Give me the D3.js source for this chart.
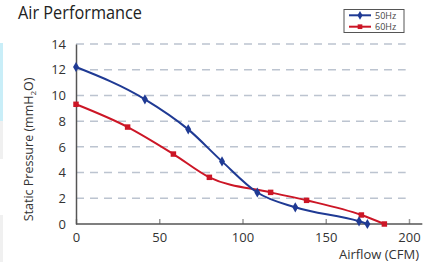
<!DOCTYPE html>
<html>
<head>
<meta charset="utf-8">
<script src="https://cdn.jsdelivr.net/npm/d3@7"></script>
<style>
  body { margin: 0; background: #fff; }
  svg { display: block; font-family: "Open Sans", "Noto Sans", sans-serif; }
</style>
</head>
<body>
<svg id="chart" width="432" height="262"></svg>
<script>
// data
var airflow50 = [0, 41.4, 67.4, 87.7, 108.9, 131.7, 170, 175];
var pressure50 = [12.21, 9.70, 7.36, 4.87, 2.45, 1.30, 0.21, 0];
var airflow60 = [0, 31, 58.5, 80.1, 116.9, 138.5, 171.4, 185.2];
var pressure60 = [9.31, 7.54, 5.44, 3.63, 2.46, 1.84, 0.70, 0];
var xTicks = [0, 50, 100, 150, 200];
var yTicks = [0, 2, 4, 6, 8, 10, 12, 14];
var seriesNames = ["50Hz", "60Hz"];
var seriesColors = ["#1f3a94", "#cc1626"];

var svg = d3.select("#chart");

var x = d3.scaleLinear().domain([0, 200]).range([76, 409]);
var y = d3.scaleLinear().domain([0, 14]).range([224, 44]);

// little side decorations
svg.append("rect").attr("x", 0).attr("y", 43).attr("width", 3).attr("height", 78).attr("fill", "#c9eef8");
svg.append("rect").attr("x", 0).attr("y", 121).attr("width", 3).attr("height", 38).attr("fill", "#f0f0f0");
svg.append("rect").attr("x", 0).attr("y", 215).attr("width", 3).attr("height", 47).attr("fill", "#f0f0f0");

// title
svg.append("text")
    .attr("x", 18).attr("y", 19)
    .attr("font-size", 19)
    .attr("textLength", 124)
    .attr("lengthAdjust", "spacingAndGlyphs")
    .attr("fill", "#222")
    .text("Air Performance");

// grid
svg.append("g")
    .selectAll("line")
    .data(yTicks.filter(function(d) { return d > 0; }))
    .enter().append("line")
    .attr("x1", x(0)).attr("x2", x(198))
    .attr("y1", function(d) { return y(d); })
    .attr("y2", function(d) { return y(d); })
    .attr("stroke", "#bcc4d0")
    .attr("stroke-width", 1.5)
    .attr("stroke-dasharray", "8,6");

// x axis
var gx = svg.append("g")
    .attr("transform", "translate(0," + y(0) + ")")
    .call(d3.axisBottom(x).tickValues(xTicks).tickSizeInner(-5).tickSizeOuter(0).tickPadding(9));
gx.select(".domain").remove();
gx.append("line")
    .attr("x1", x(0)).attr("x2", x(208))
    .attr("stroke", "#555").attr("stroke-width", 1.5);
gx.selectAll(".tick line").attr("stroke", "#999").attr("stroke-width", 1.5);
gx.selectAll(".tick text").attr("font-size", 13).attr("fill", "#333").attr("font-family", "Open Sans, sans-serif");

// y axis
var gy = svg.append("g")
    .attr("transform", "translate(" + x(0) + ",0)")
    .call(d3.axisLeft(y).tickValues(yTicks).tickSize(0).tickPadding(10));
gy.select(".domain").attr("stroke", "#555").attr("stroke-width", 1.5);
gy.selectAll(".tick text").attr("font-size", 13).attr("fill", "#333").attr("font-family", "Open Sans, sans-serif");

// axis titles
svg.append("text")
    .attr("x", x(206)).attr("y", 259)
    .attr("text-anchor", "end")
    .attr("font-size", 13)
    .attr("fill", "#333")
    .text("Airflow (CFM)");

var yl = svg.append("text")
    .attr("transform", "translate(33," + y(5.8) + ") rotate(-90)")
    .attr("text-anchor", "middle")
    .attr("font-size", 12.5)
    .attr("fill", "#333");
yl.append("tspan").text("Static Pressure (mmH");
yl.append("tspan").attr("font-size", 8).attr("dy", 3).text("2");
yl.append("tspan").attr("dy", -3).text("O)");

// series
var line = d3.line()
    .x(function(d) { return x(d[0]); })
    .y(function(d) { return y(d[1]); })
    .curve(d3.curveMonotoneX);

var data60 = d3.zip(airflow60, pressure60);
var data50 = d3.zip(airflow50, pressure50);

svg.append("path")
    .datum(data60)
    .attr("d", line)
    .attr("fill", "none")
    .attr("stroke", seriesColors[1])
    .attr("stroke-width", 2);

svg.append("path")
    .datum(data50)
    .attr("d", line)
    .attr("fill", "none")
    .attr("stroke", seriesColors[0])
    .attr("stroke-width", 2);

var square = d3.symbol().type(d3.symbolSquare).size(30);
var diamond = d3.symbol().type(d3.symbolDiamond).size(30);

svg.append("g").selectAll("path")
    .data(data60)
    .enter().append("path")
    .attr("d", square)
    .attr("transform", function(d) { return "translate(" + x(d[0]) + "," + y(d[1]) + ")"; })
    .attr("fill", seriesColors[1]);

svg.append("g").selectAll("path")
    .data(data50)
    .enter().append("path")
    .attr("d", diamond)
    .attr("transform", function(d) { return "translate(" + x(d[0]) + "," + y(d[1]) + ")"; })
    .attr("fill", seriesColors[0]);

// legend
var lg = svg.append("g");
lg.append("rect")
    .attr("x", 344).attr("y", 9.5)
    .attr("width", 60).attr("height", 23)
    .attr("fill", "#fff")
    .attr("stroke", "#555")
    .attr("stroke-width", 1);

var items = lg.selectAll("g.item")
    .data(seriesNames)
    .enter().append("g")
    .attr("class", "item")
    .attr("transform", function(d, i) { return "translate(349," + (15.3 + i * 11.4) + ")"; });

items.append("line")
    .attr("x1", 0).attr("x2", 22)
    .attr("stroke", function(d, i) { return seriesColors[i]; })
    .attr("stroke-width", 2);

items.append("path")
    .attr("d", function(d, i) { return (i === 0 ? d3.symbol().type(d3.symbolDiamond).size(22) : d3.symbol().type(d3.symbolSquare).size(22))(); })
    .attr("transform", "translate(11,0)")
    .attr("fill", function(d, i) { return seriesColors[i]; });

items.append("text")
    .attr("x", 26).attr("y", 3.2)
    .attr("font-size", 9)
    .attr("fill", "#444")
    .text(function(d) { return d; });
</script>
</body>
</html>
